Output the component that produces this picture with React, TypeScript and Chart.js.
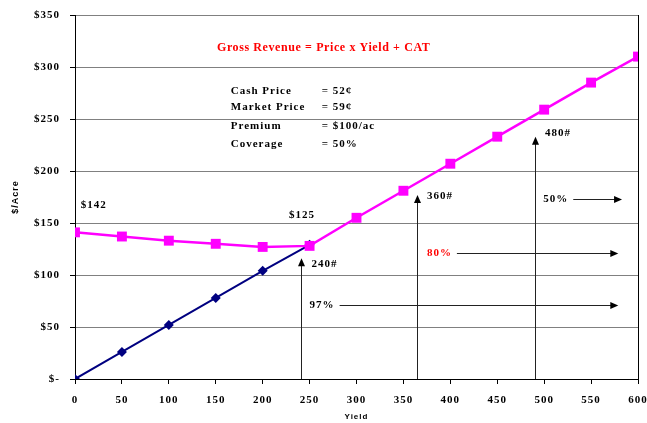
import { useEffect, useRef } from 'react';
import { Chart, registerables } from 'chart.js';
Chart.register(...registerables);

const yieldValues = [0, 50, 100, 150, 200, 250, 300, 350, 400, 450, 500, 550, 600];
const grossRevenue = [141, 137, 133, 130, 127, 128, 155, 181, 207, 233, 259, 285, 310];
const cashSales = [0, 26, 52, 78, 104, 129];

const titleText = 'Gross Revenue = Price x Yield + CAT';
const titlePos = [265, 318];

const infoLabels = ['Cash Price', 'Market Price', 'Premium', 'Coverage'];
const infoValues = ['= 52¢', '= 59¢', '= $100/ac', '= 50%'];
const infoRowY = [277, 261, 243, 226];
const infoLabelX = 166;
const infoValueX = 263;

const priceLabels = ['$142', '$125'];
const priceLabelX = [6, 228];
const priceLabelY = [167, 158];

const yieldArrowX = [241, 365, 490];
const yieldArrowTop = [116, 177, 233];
const yieldArrowLabels = ['240#', '360#', '480#'];
const yieldLabelX = [252, 375, 501];
const yieldLabelY = [110, 176, 236];

const coverageLabels = ['97%', '80%', '50%'];
const coverageColors = ['#000000', '#FF0000', '#000000'];
const coverageY = [71, 121, 173];
const coverageTextX = [250, 375, 499];
const coverageLineStart = [282, 407, 531];
const coverageLineEnd = [579, 579, 583];

const serif = '"Liberation Serif", "Times New Roman", serif';

export default function App() {
  const ref = useRef<HTMLCanvasElement>(null);
  useEffect(() => {
    const canvas = ref.current!;
    const annot = {
      id: 'annot',
      beforeDraw(chart: any) {
        const ctx = chart.ctx;
        ctx.save();
        ctx.fillStyle = '#fff';
        ctx.fillRect(0, 0, chart.width, chart.height);
        ctx.restore();
        ctx.letterSpacing = '1px';
      },
      afterDatasetsDraw(chart: any) {
        const ctx = chart.ctx;
        const xs = chart.scales.x;
        const ys = chart.scales.y;
        const area = chart.chartArea;
        const px = (v: number) => xs.getPixelForValue(v);
        const py = (v: number) => ys.getPixelForValue(v);
        ctx.save();
        // right border
        ctx.strokeStyle = '#000';
        ctx.lineWidth = 1;
        ctx.beginPath();
        ctx.moveTo(Math.round(area.right) + 0.5, area.top);
        ctx.lineTo(Math.round(area.right) + 0.5, area.bottom);
        ctx.stroke();

        ctx.textBaseline = 'middle';
        // title
        ctx.letterSpacing = '0.6px';
        ctx.font = `bold 12px ${serif}`;
        ctx.fillStyle = '#FF0000';
        ctx.textAlign = 'center';
        ctx.fillText(titleText, px(titlePos[0]), py(titlePos[1]));
        // info block
        ctx.letterSpacing = '1px';
        ctx.font = `bold 11px ${serif}`;
        ctx.fillStyle = '#000';
        ctx.textAlign = 'left';
        infoLabels.forEach((l, i) => {
          ctx.fillText(l, px(infoLabelX), py(infoRowY[i]));
          ctx.fillText(infoValues[i], px(infoValueX), py(infoRowY[i]));
        });
        priceLabels.forEach((l, i) => {
          ctx.fillText(l, px(priceLabelX[i]), py(priceLabelY[i]));
        });
        const head = (x: number, y: number, dir: 'up' | 'right') => {
          ctx.beginPath();
          if (dir === 'up') {
            ctx.moveTo(x, y);
            ctx.lineTo(x - 3.5, y + 8);
            ctx.lineTo(x + 3.5, y + 8);
          } else {
            ctx.moveTo(x, y);
            ctx.lineTo(x - 8, y - 3.5);
            ctx.lineTo(x - 8, y + 3.5);
          }
          ctx.closePath();
          ctx.fill();
        };
        ctx.strokeStyle = '#222';
        ctx.fillStyle = '#000';
        yieldArrowX.forEach((v, i) => {
          const x = Math.round(px(v)) + 0.5;
          const top = py(yieldArrowTop[i]);
          ctx.beginPath();
          ctx.moveTo(x, area.bottom);
          ctx.lineTo(x, top + 6);
          ctx.stroke();
          head(x, top, 'up');
          ctx.fillText(yieldArrowLabels[i], px(yieldLabelX[i]), py(yieldLabelY[i]));
        });
        coverageLabels.forEach((l, i) => {
          const y = Math.round(py(coverageY[i])) + 0.5;
          ctx.fillStyle = coverageColors[i];
          ctx.fillText(l, px(coverageTextX[i]), y);
          ctx.fillStyle = '#000';
          ctx.beginPath();
          ctx.moveTo(px(coverageLineStart[i]), y);
          ctx.lineTo(px(coverageLineEnd[i]) - 6, y);
          ctx.stroke();
          head(px(coverageLineEnd[i]), y, 'right');
        });
        ctx.restore();
      },
      afterDraw(chart: any) {
        chart.ctx.letterSpacing = '0px';
      },
    };

    const chart = new Chart(canvas, {
      type: 'line',
      data: {
        datasets: [
          {
            label: 'Gross Revenue',
            data: yieldValues.map((x, i) => ({ x, y: grossRevenue[i] })),
            borderColor: '#FF00FF',
            backgroundColor: '#FF00FF',
            borderWidth: 2.5,
            pointStyle: 'rect',
            pointRadius: 7,
            pointBorderWidth: 0,
            order: 1,
          },
          {
            label: 'Cash',
            data: cashSales.map((y, i) => ({ x: yieldValues[i], y })),
            borderColor: '#000080',
            backgroundColor: '#000080',
            borderWidth: 2,
            pointStyle: 'rectRot',
            pointRadius: 5,
            pointBorderWidth: 0,
            order: 2,
          },
        ],
      },
      options: {
        responsive: false,
        animation: false,
        layout: { padding: { top: 15, right: 9, left: 0, bottom: 0 } },
        plugins: { legend: { display: false }, tooltip: { enabled: false } },
        scales: {
          x: {
            type: 'linear',
            min: 0,
            max: 600,
            ticks: {
              stepSize: 50,
              padding: 10,
              color: '#000',
              font: { family: serif, size: 11, weight: 'bold' },
            },
            grid: { drawOnChartArea: false, drawTicks: true, tickLength: 5, color: '#000' },
            border: { color: '#000', width: 1 },
            title: {
              display: true,
              text: 'Yield',
              color: '#000',
              font: { family: '"Liberation Sans", Arial, sans-serif', size: 8, weight: 'bold' },
              padding: { top: 0, bottom: 1 },
            },
            afterFit: (s: any) => { s.height = 44; s.paddingLeft = 0; s.paddingRight = 0; },
          },
          y: {
            min: 0,
            max: 350,
            ticks: {
              stepSize: 50,
              padding: 10,
              color: '#000',
              font: { family: serif, size: 11, weight: 'bold' },
              callback: (v: any) => (v === 0 ? '$-' : '$' + v),
            },
            grid: { color: '#808080', tickColor: '#000', tickLength: 5, lineWidth: 1 },
            border: { color: '#000', width: 1 },
            title: {
              display: true,
              text: '$/Acre',
              color: '#000',
              font: { family: '"Liberation Sans", Arial, sans-serif', size: 9, weight: 'bold' },
              padding: { top: 10, bottom: 0 },
            },
            afterFit: (s: any) => { s.width = 75; s.paddingTop = 0; s.paddingBottom = 0; },
          },
        },
      },
      plugins: [annot],
    } as any);
    return () => chart.destroy();
  }, []);
  return (
    <div style={{ position: 'fixed', left: 0, top: 0, width: 647, height: 423 }}>
      <canvas ref={ref} width={647} height={423} />
    </div>
  );
}
